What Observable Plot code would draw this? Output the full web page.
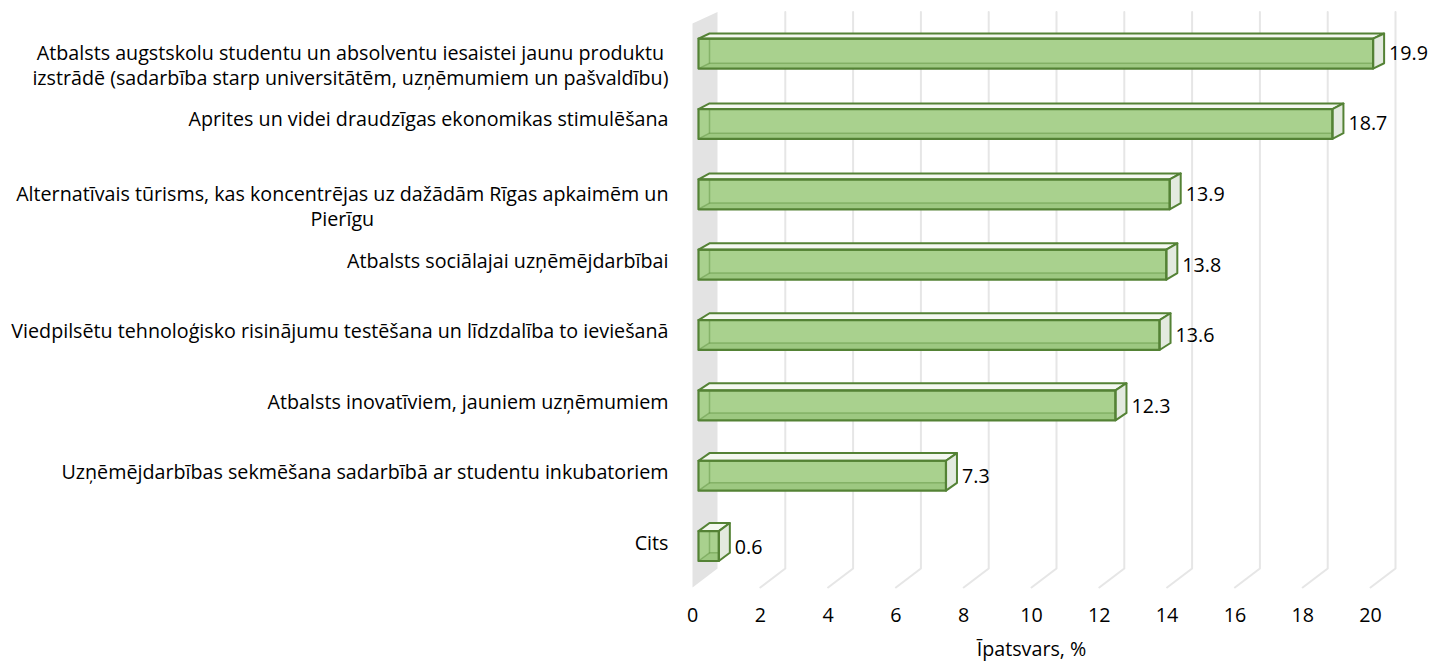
<!DOCTYPE html>
<html><head><meta charset="utf-8">
<script src="https://cdn.jsdelivr.net/npm/d3@7"></script>
<script src="https://cdn.jsdelivr.net/npm/@observablehq/plot@0.6"></script>
<style>body{margin:0;background:#fff;}</style>
</head><body><div id="chart"></div>
<script>
// ---- data ----
const categories = [
  "Atbalsts augstskolu studentu un absolventu iesaistei jaunu produktu\nizstrādē (sadarbība starp universitātēm, uzņēmumiem un pašvaldību)",
  "Aprites un videi draudzīgas ekonomikas stimulēšana",
  "Alternatīvais tūrisms, kas koncentrējas uz dažādām Rīgas apkaimēm un\nPierīgu",
  "Atbalsts sociālajai uzņēmējdarbībai",
  "Viedpilsētu tehnoloģisko risinājumu testēšana un līdzdalība to ieviešanā",
  "Atbalsts inovatīviem, jauniem uzņēmumiem",
  "Uzņēmējdarbības sekmēšana sadarbībā ar studentu inkubatoriem",
  "Cits"
];
const values = [19.9, 18.7, 13.9, 13.8, 13.6, 12.3, 7.3, 0.6];
const xTicks = [0, 2, 4, 6, 8, 10, 12, 14, 16, 18, 20];
const xDomain = [0, 20];
const axisTitle = "Īpatsvars, %";

// ---- layout / style ----
const W = 1430, H = 667;
const xRange = [692, 1370];
const yRange = [56, 550];
const FONT_NAME = "Open Sans";
const FONT = "'Open Sans', Lato, sans-serif";
const FS = 19.7;
const DEPTH = 25;          // px of full depth along x
const wallTopPx = 23, wallBotPx = 587;
const barD0 = 0.24, barD1 = 0.68, barHalfPx = 15;
const C = {front: "#a9d18e", edge: "#548235", top: "#f4f8f0", side: "#e3eadf", wall: "#e3e3e3", grid: "#e6e6e6", hidden: "#6a9a4a"};

const n = categories.length;
const kx = (xRange[1] - xRange[0]) / (xDomain[1] - xDomain[0]);
const ky = (yRange[1] - yRange[0]) / (n - 1);
const pxY = yu => yRange[0] + ky * yu;
const unitY = px => (px - yRange[0]) / ky;
const slope = ypx => 0.46 + 0.30 * (ypx - wallTopPx) / (wallBotPx - wallTopPx);
const P = (v, yu, d) => ({x: v + d * DEPTH / kx, y: yu - d * DEPTH * slope(pxY(yu)) / ky});

const rows = categories.map((c, i) => ({i, label: c, value: values[i]}));

// wall
const yTop = unitY(wallTopPx), yBot = unitY(wallBotPx);
const wall = [P(0, yTop, 0), P(0, yTop, 1), P(0, yBot, 1), P(0, yBot, 0)].map(p => ({...p, id: "wall"}));
// grid lines on back wall + floor
const grid = [];
xTicks.filter(t => t > 0).forEach(t => {
  [P(t, yTop, 1), P(t, yBot, 1), P(t, yBot, 0)].forEach(p => grid.push({...p, id: "g" + t}));
});

// bar faces
const front = [], topF = [], side = [], bottom = [], hidden = [];
rows.forEach(r => {
  const v = r.value, a = r.i - barHalfPx / ky, b = r.i + barHalfPx / ky, id = r.i;
  [P(0,a,barD0), P(v,a,barD0), P(v,b,barD0), P(0,b,barD0)].forEach(p => front.push({...p, id}));
  [P(0,a,barD0), P(v,a,barD0), P(v,a,barD1), P(0,a,barD1)].forEach(p => topF.push({...p, id}));
  [P(v,a,barD0), P(v,a,barD1), P(v,b,barD1), P(v,b,barD0)].forEach(p => side.push({...p, id}));
  [P(0,b,barD0), P(v,b,barD0), P(v,b,barD1), P(0,b,barD1)].forEach(p => bottom.push({...p, id}));
  [P(0,a,barD1), P(0,b,barD1), P(v,b,barD1)].forEach(p => hidden.push({...p, id: id + "h1"}));
  [P(0,b,barD0), P(0,b,barD1)].forEach(p => hidden.push({...p, id: id + "h2"}));
});

// label measurement for centered multi-line labels
const ctx = document.createElement("canvas").getContext("2d");
ctx.font = `${FS}px '${FONT_NAME}'`;
const single = rows.filter(r => !r.label.includes("\n"));
const multi = rows.filter(r => r.label.includes("\n"));
const multiMarks = multi.map(r => {
  const wmax = Math.max(...r.label.split("\n").map(s => ctx.measureText(s).width));
  return Plot.text([r], {x: 0, y: "i", text: "label", textAnchor: "middle", lineAnchor: "top",
    dx: -24 - wmax / 2, dy: -7 - 0.39 * FS, lineHeight: 25 / FS, fontSize: FS, fill: "#000"});
});

const poly = (data, o) => Plot.line(data, {x: "x", y: "y", z: "id", curve: "linear-closed", ...o});

const chart = Plot.plot({
  width: W, height: H,
  marginLeft: xRange[0], marginRight: W - xRange[1], marginTop: 10, marginBottom: H - 590,
  style: {fontFamily: FONT, fontSize: FS + "px", background: "#fff", color: "#000"},
  x: {domain: xDomain, range: xRange, axis: null},
  y: {domain: [0, n - 1], range: yRange, axis: null},
  marks: [
    poly(wall, {fill: C.wall, stroke: "none"}),
    Plot.line(grid, {x: "x", y: "y", z: "id", stroke: C.grid, strokeWidth: 2}),
    poly(front, {fill: C.front, stroke: "none"}),
    poly(bottom, {fill: "#4f8a2e", fillOpacity: 0.13, stroke: "none"}),
    Plot.line(hidden, {x: "x", y: "y", z: "id", stroke: C.hidden, strokeOpacity: 0.55, strokeWidth: 1.5}),
    poly(topF, {fill: C.top, stroke: C.edge, strokeWidth: 2, strokeLinejoin: "round"}),
    poly(side, {fill: C.side, stroke: C.edge, strokeWidth: 2, strokeLinejoin: "round"}),
    poly(front, {fill: "none", stroke: C.edge, strokeWidth: 2.2, strokeLinejoin: "round"}),
    Plot.text(single, {x: 0, y: "i", text: "label", textAnchor: "end", dx: -24, dy: -7, fontSize: FS, fill: "#000"}),
    ...multiMarks,
    Plot.text(rows, {x: "value", y: "i", text: d => d.value.toFixed(1), textAnchor: "start", dx: 22, dy: -3, fontSize: FS, fill: "#000"}),
    Plot.axisX({ticks: xTicks, tickSize: 0, tickPadding: 17, label: null, fontSize: FS, tickFormat: d => String(d)}),
    Plot.text([axisTitle], {frameAnchor: "bottom", dy: 65, fontSize: FS, fill: "#000"})
  ]
});
document.getElementById("chart").appendChild(chart);
</script>
</body></html>
